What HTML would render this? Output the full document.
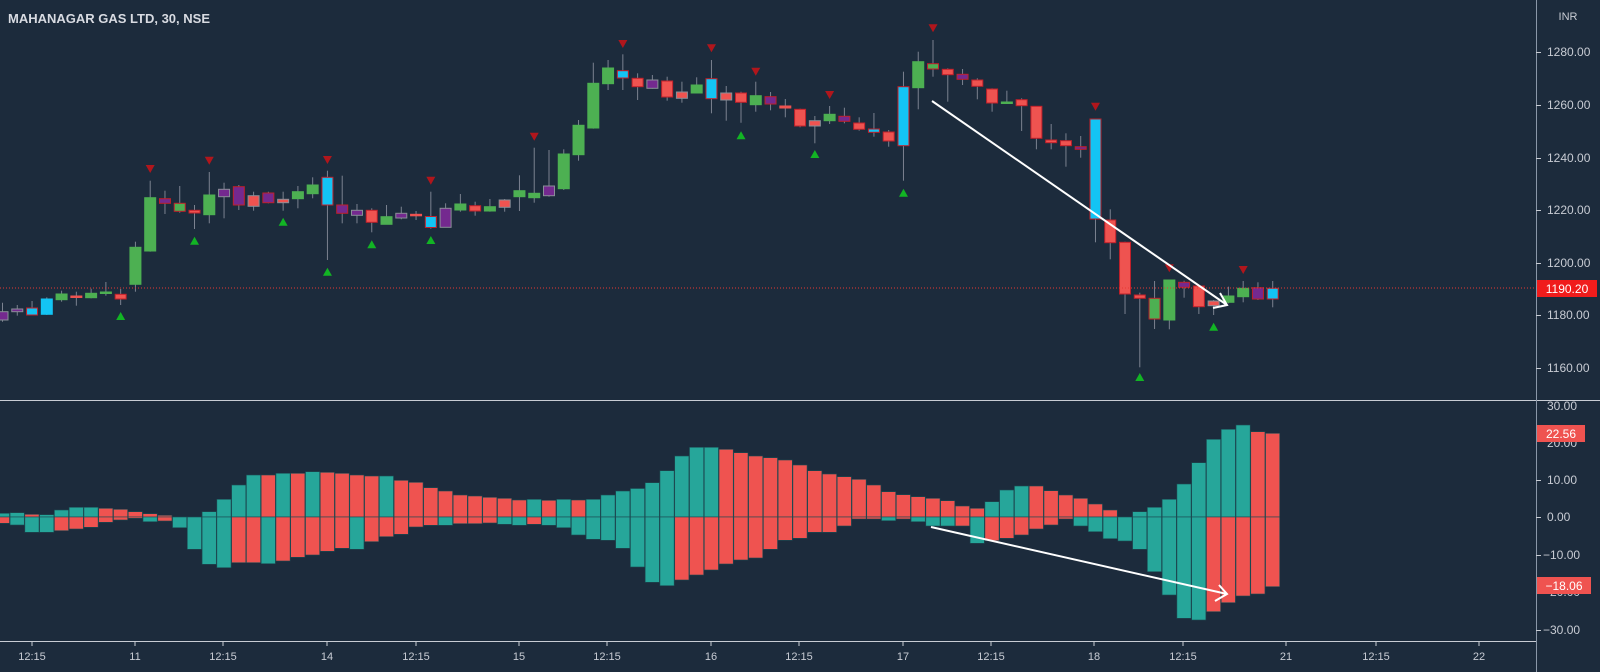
<!DOCTYPE html>
<html><head><meta charset="utf-8"><style>
html,body{margin:0;padding:0;background:#1c2b3c;}
svg{display:block;}
text{font-family:"Liberation Sans",sans-serif;}
</style></head><body>
<svg id="s" width="1600" height="672" viewBox="0 0 1600 672" xmlns="http://www.w3.org/2000/svg">
<rect width="1600" height="672" fill="#1c2b3c"/>
<g id="cand"></g>
<g id="hist"></g>
<line x1="0" y1="288" x2="1536" y2="288" stroke="#e53935" stroke-width="1" stroke-dasharray="1,2"/>
<!-- arrows -->
<line x1="932" y1="101" x2="1227" y2="305" stroke="#ffffff" stroke-width="2"/>
<polyline points="1220,293 1227,305 1213,308" fill="none" stroke="#ffffff" stroke-width="2"/>
<line x1="931" y1="527" x2="1227" y2="594" stroke="#ffffff" stroke-width="2"/>
<polyline points="1219,585 1227,594 1215,601" fill="none" stroke="#ffffff" stroke-width="2"/>
<!-- separators -->
<line x1="0" y1="400.5" x2="1600" y2="400.5" stroke="#c8ccd4" stroke-width="1"/>
<line x1="0" y1="641.5" x2="1536" y2="641.5" stroke="#c8ccd4" stroke-width="1"/>
<line x1="1536.5" y1="0" x2="1536.5" y2="672" stroke="#8a97a8" stroke-width="1"/>
<text x="8" y="23" font-size="13" font-weight="bold" fill="#d8dbe2">MAHANAGAR GAS LTD, 30, NSE</text>
<text x="1568" y="20" font-size="11" fill="#c8ccd4" text-anchor="middle">INR</text>
<g font-size="12" fill="#c8ccd4">
<text x="1547" y="56">1280.00</text>
<text x="1547" y="109">1260.00</text>
<text x="1547" y="162">1240.00</text>
<text x="1547" y="214">1220.00</text>
<text x="1547" y="267">1200.00</text>
<text x="1547" y="319">1180.00</text>
<text x="1547" y="372">1160.00</text>
<text x="1547" y="410">30.00</text>
<text x="1547" y="447">20.00</text>
<text x="1547" y="484">10.00</text>
<text x="1547" y="521">0.00</text>
<text x="1543" y="559">−10.00</text>
<text x="1543" y="596">−20.00</text>
<text x="1543" y="634">−30.00</text>
</g>
<g stroke="#c8ccd4" stroke-width="1">
<line x1="1536" y1="52.5" x2="1541" y2="52.5"/><line x1="1536" y1="105.5" x2="1541" y2="105.5"/>
<line x1="1536" y1="158.5" x2="1541" y2="158.5"/><line x1="1536" y1="210.5" x2="1541" y2="210.5"/>
<line x1="1536" y1="263.5" x2="1541" y2="263.5"/><line x1="1536" y1="315.5" x2="1541" y2="315.5"/>
<line x1="1536" y1="368.5" x2="1541" y2="368.5"/>
<line x1="1536" y1="480.5" x2="1541" y2="480.5"/><line x1="1536" y1="517.5" x2="1541" y2="517.5"/>
<line x1="1536" y1="555.5" x2="1541" y2="555.5"/><line x1="1536" y1="630.5" x2="1541" y2="630.5"/>
</g>
<rect x="1537" y="280" width="60" height="17" fill="#f01c1c"/>
<text x="1567" y="293" font-size="12" fill="#ffffff" text-anchor="middle">1190.20</text>
<rect x="1537" y="425" width="48" height="17" fill="#ef5350"/>
<text x="1561" y="438" font-size="12" fill="#ffffff" text-anchor="middle">22.56</text>
<rect x="1537" y="577" width="54" height="17" fill="#ef5350"/>
<text x="1564" y="590" font-size="12" fill="#ffffff" text-anchor="middle">−18.06</text>
<g font-size="11" fill="#c8ccd4" text-anchor="middle">
<text x="32" y="660">12:15</text><text x="135" y="660">11</text><text x="223" y="660">12:15</text>
<text x="327" y="660">14</text><text x="416" y="660">12:15</text><text x="519" y="660">15</text>
<text x="607" y="660">12:15</text><text x="711" y="660">16</text><text x="799" y="660">12:15</text>
<text x="903" y="660">17</text><text x="991" y="660">12:15</text><text x="1094" y="660">18</text>
<text x="1183" y="660">12:15</text><text x="1286" y="660">21</text><text x="1376" y="660">12:15</text>
<text x="1479" y="660">22</text>
</g>
<g stroke="#c8ccd4" stroke-width="1">
<line x1="32" y1="641" x2="32" y2="646"/><line x1="135" y1="641" x2="135" y2="646"/><line x1="223" y1="641" x2="223" y2="646"/>
<line x1="327" y1="641" x2="327" y2="646"/><line x1="416" y1="641" x2="416" y2="646"/><line x1="519" y1="641" x2="519" y2="646"/>
<line x1="607" y1="641" x2="607" y2="646"/><line x1="711" y1="641" x2="711" y2="646"/><line x1="799" y1="641" x2="799" y2="646"/>
<line x1="903" y1="641" x2="903" y2="646"/><line x1="991" y1="641" x2="991" y2="646"/><line x1="1094" y1="641" x2="1094" y2="646"/>
<line x1="1183" y1="641" x2="1183" y2="646"/><line x1="1286" y1="641" x2="1286" y2="646"/><line x1="1376" y1="641" x2="1376" y2="646"/>
<line x1="1479" y1="641" x2="1479" y2="646"/>
</g>
</svg>
<script>
var C=[["P","g",311.7,320,302.7,321.7],["P","g",309,311.7,305,315.7],["C","r",308,315,301,315],["C","n",299,314.3,297.3,315],["G","n",294,299.7,290.7,301.7],["R","n",296,297.5,291.7,305.7],["G","n",293.3,297.7,288.7,298.3],["G","n",292,293.3,282,295.7],["R","r",294.3,299,289,305],["G","n",247.3,284.3,241.7,291.7],
["G","n",197.7,251,180.7,251.7],["P","r",198.7,203.3,190.7,214],["G","r",203.3,211.3,186,212.7],["R","r",210.3,213,205,229],["G","n",195,214.7,172,223.3],["P","g",189.3,196.7,182.7,218.3],["P","r",186.7,205,185,210],["R","g",195.7,206.3,191.7,210.7],["P","r",193,202.7,191.7,203.3],["R","g",199.3,202.7,191.7,210.7],
["G","n",191.7,198.7,186,208.3],["G","n",185,193.7,177.3,198.3],["C","r",177.3,205,170.7,260],["P","r",205,213.3,175.7,223.3],["P","g",210.3,215.3,204,223.3],["R","r",210.3,222.3,208.3,232.3],["G","n",216.7,224.3,205,224.3],["P","g",213.3,218,206.7,219.3],["R","n",214.3,215.3,211,220],["C","r",216.5,227.5,191.7,228.7],
["P","g",208.3,227.3,203.3,227.3],["G","n",204,210,194,211.7],["R","r",205.7,211,201.7,215.7],["G","n",206.7,211,199,211.7],["R","g",200,207.3,199,211.7],["G","n",190.7,196.7,175.3,211],["G","n",193.3,197.7,147.7,202.7],["P","g",186,195.7,150,196.7],["G","n",154,188.7,149.3,190],["G","n",125.3,154.7,120,160.7],
["G","n",83.3,128,62.7,128.7],["G","n",68,83.7,60,90],["C","r",70.7,78,54.3,90],["R","r",78.3,86.7,73.3,100],["P","g",80,88.3,75,88.7],["R","r",81,97,76.7,100.7],["R","g",92,98.3,81.7,102.7],["G","n",85,93,77.3,93.3],["C","r",78.7,98.7,60,113.3],["R","g",93,100,86,120.7],
["R","r",93,102.3,91.7,122.7],["G","n",95.7,104.7,81.7,111.7],["P","r",96.7,104,92,110.3],["R","n",106,108,99,117.3],["R","r",109.3,126,108.7,127.3],["R","g",120.7,126,116,143.3],["G","n",114.3,120.7,106,124],["P","r",116.3,121.3,107.7,123.3],["R","r",123,129.3,117.3,130.7],["C","r",129,132.3,113,136.7],
["R","r",132,141,130,146.7],["C","r",86.7,145.7,71.7,180.7],["G","n",61.7,87.7,51.7,109.3],["G","r",63.7,69,40,76.7],["R","r",69.3,74.7,68.3,101.7],["P","r",74.3,79.3,69,85],["R","r",80,86.3,78.3,99.3],["R","r",89,103,88.3,111.7],["G","n",102,103,90.7,103.3],["R","r",99.7,105.7,98.3,131],
["R","r",106.3,138.3,106,149.3],["R","r",140,142.7,124,149.3],["R","r",140.7,145.7,133.3,166.7],["P","r",146.7,149.3,136,157.7],["C","r",119,219,119,242.3],["R","r",220,242.7,209.3,259.3],["R","r",242.3,294,241.7,314],["R","r",295,298.3,292.7,367.3],["G","r",298.3,319,281,329],["G","n",280,320,280,329.3],
["P","r",282.3,287.3,280.7,297.7],["R","r",286,306.7,285,314],["R","g",301,305.7,300,315],["G","n",296,302.3,286.7,303.3],["G","n",288.3,296.7,281,302.3],["P","r",287.7,299,282.3,300],["C","r",288.3,299,281,307.3]];
var DN={10:169,14:160.7,22:160,29:180.7,36:136.7,42:44,48:48.3,51:71.7,56:95,63:28.3,74:106.7,79:268.3,84:270};
var UP={8:316,13:240.7,19:221.7,22:271.7,25:244.3,29:240,50:135.3,55:154,61:192.7,77:377,82:326.7};
var H=[[513.3,"t",523.3,"r"],[512.7,"t",525,"t"],[514.3,"r",532.3,"t"],[514.7,"t",532.3,"t"],[510,"t",530.7,"r"],[507.3,"t",529,"r"],[507.3,"t",527.3,"r"],[508.3,"r",522.3,"r"],[509.3,"r",520,"r"],[511.7,"r",518.3,"r"],
[513.7,"r",521.7,"t"],[515.3,"r",521,"r"],[517,"t",527.7,"t"],[517,"t",549.3,"t"],[511.7,"t",564.3,"t"],[499.3,"t",567.7,"t"],[485,"t",562.7,"r"],[475,"t",562.7,"r"],[475,"r",563.7,"t"],[473.3,"t",561,"r"],
[473.3,"r",557.3,"r"],[471.7,"t",555,"r"],[472.3,"r",551.3,"r"],[473.3,"r",548.3,"r"],[475,"r",549.3,"t"],[476,"r",541.7,"r"],[476,"t",536.7,"r"],[480.3,"r",534.3,"r"],[482.3,"r",527,"r"],[487.7,"r",525.3,"r"],
[491,"r",525.3,"t"],[495,"r",523.7,"r"],[496,"r",523.7,"r"],[497.3,"r",523,"r"],[498.3,"r",524.3,"t"],[500,"r",525.3,"t"],[499.3,"t",524.3,"r"],[500.3,"r",525.3,"t"],[499.3,"t",527.7,"t"],[500,"r",535,"t"],
[499.3,"t",539.3,"t"],[495,"t",540.3,"t"],[491,"t",548.3,"t"],[488.5,"t",567,"t"],[482.7,"t",582.3,"t"],[470.7,"t",585.7,"t"],[456,"t",580,"r"],[447.3,"t",575,"r"],[447.3,"t",570,"r"],[449.3,"r",564,"r"],
[452.7,"r",560,"r"],[456,"r",558,"r"],[457.7,"r",549.3,"r"],[460,"r",540.3,"r"],[465,"r",538.3,"r"],[470.7,"r",532.3,"r"],[474,"r",532.3,"r"],[476.7,"r",526,"r"],[479.3,"r",519,"r"],[485,"r",519,"r"],
[491.7,"r",520.7,"t"],[494.7,"r",519,"r"],[496.7,"r",521.7,"t"],[498.3,"r",526,"t"],[500.7,"r",526,"t"],[506,"r",526,"r"],[508.3,"r",543.3,"t"],[501.7,"t",540.7,"r"],[490,"t",538.3,"r"],[486,"t",535,"r"],
[486,"r",529,"r"],[490.7,"r",525,"r"],[495,"r",519,"r"],[498.3,"r",526,"t"],[504,"r",531.7,"t"],[510,"r",538.7,"t"],[517,"t",541,"t"],[511.7,"t",549.3,"t"],[507.3,"t",571.7,"t"],[499.3,"t",595,"t"],
[484,"t",618.3,"t"],[462.7,"t",620,"t"],[439.3,"t",611.7,"r"],[429.3,"t",602.7,"r"],[425,"t",596,"r"],[431.7,"r",594,"r"],[433.3,"r",586.7,"r"]];
var FC={G:"#4db052",R:"#ef5350",C:"#13c4f4",P:"#74298f"};
var BC={r:"#c0202a",g:"#8a8f98"};
var HC={t:"#26a69a",r:"#ef5350"};
var ns="http://www.w3.org/2000/svg";
function el(p,n,a){var e=document.createElementNS(ns,n);for(var k in a)e.setAttribute(k,a[k]);p.appendChild(e);return e;}
var cg=document.getElementById("cand"),hg=document.getElementById("hist");
var SP=14.77,X0=2.5;
for(var i=0;i<C.length;i++){var c=C[i],x=X0+i*SP;
 el(cg,"line",{x1:x,y1:c[4],x2:x,y2:c[5],stroke:"#7b8290","stroke-width":1});
 var h=Math.max(c[3]-c[2],1.5);
 var bc=c[1]=="n"?FC[c[0]]:BC[c[1]];
 el(cg,"rect",{x:x-5.5,y:c[2],width:11,height:h,fill:FC[c[0]],stroke:bc,"stroke-width":1});
 if(DN[i]!==undefined){var y=DN[i];el(cg,"polygon",{points:(x-4.5)+","+(y-4)+" "+(x+4.5)+","+(y-4)+" "+x+","+(y+4),fill:"#b0161c"});}
 if(UP[i]!==undefined){var y=UP[i];el(cg,"polygon",{points:(x-4.5)+","+(y+4)+" "+(x+4.5)+","+(y+4)+" "+x+","+(y-4),fill:"#12b424"});}
}
for(var i=0;i<H.length;i++){var b=H[i],x=X0+i*SP-7.2;
 if(b[0]<517)el(hg,"rect",{x:x,y:b[0],width:14.2,height:517-b[0],fill:HC[b[1]],stroke:"#1c4a52","stroke-width":0.6});
 if(b[2]>517)el(hg,"rect",{x:x,y:517,width:14.2,height:b[2]-517,fill:HC[b[3]],stroke:"#1c4a52","stroke-width":0.6});
}
</script>
</body></html>
